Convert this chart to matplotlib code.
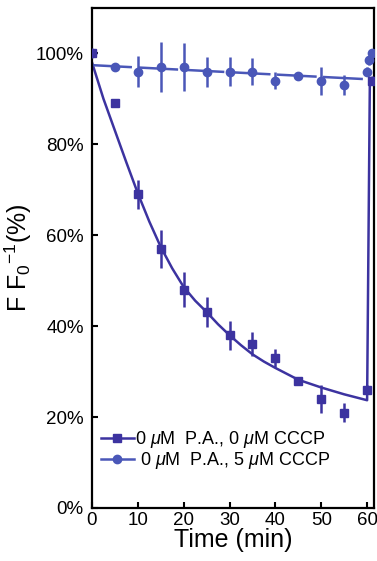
import matplotlib
matplotlib.use("Agg")
import matplotlib.pyplot as plt

plt.rcParams['font.family'] = ['Liberation Sans', 'DejaVu Sans']
plt.rcParams['mathtext.fontset'] = 'custom'
plt.rcParams['mathtext.rm'] = 'Liberation Sans'
plt.rcParams['mathtext.it'] = 'Liberation Sans:italic'

# Series 1: 0 uM P.A., 0 uM CCCP (squares)
t_sq = [0, 5, 10, 15, 20, 25, 30, 35, 40, 45, 50, 55, 60, 61]
y_sq = [100, 89, 69, 57, 48, 43, 38, 36, 33, 28, 24, 21, 26, 94]
e_sq = [0, 0.8, 3.2, 4.2, 3.8, 3.3, 3.2, 2.6, 2.0, 0.8, 3.0, 2.0, 1.0, 1.0]
# fit curve for series 1
t_fit1 = [0, 2.5, 5, 7.5, 10, 12.5, 15, 17.5, 20, 22.5, 25, 27.5, 30, 32.5,
          35, 37.5, 40, 45, 50, 55, 60, 60.6]
y_fit1 = [98, 90, 83, 76, 69.2, 63, 57.4, 52.7, 48.6, 45.6, 43.1, 40.4, 38.0,
          35.8, 33.8, 32.2, 30.8, 28.2, 26.5, 25.0, 23.7, 94]

# Series 2: 0 uM P.A., 5 uM CCCP (circles)
t_ci = [0, 5, 10, 15, 20, 25, 30, 35, 40, 45, 50, 55, 60, 60.5, 61]
y_ci = [100, 97, 96, 97, 97, 96, 96, 96, 94, 95, 94, 93, 96, 98.5, 100]
e_ci = [0, 0.8, 3.4, 5.5, 5.3, 3.3, 3.1, 3.0, 1.8, 0.5, 3.1, 2.2, 1.0, 1.0, 1.0]
t_fit2 = [0, 60]
y_fit2 = [97.4, 94.3]

c_sq = '#3c33a0'
c_ci = '#4a57b8'

fig = plt.figure(figsize=(3.77, 5.61), dpi=100)
ax = fig.add_axes([0.244, 0.0945, 0.748, 0.8915])

ax.plot(t_fit1, y_fit1, color=c_sq, lw=1.8, zorder=2)
ax.plot(t_fit2, y_fit2, color=c_ci, lw=1.8, dashes=(16, 2.5), zorder=2)
ax.errorbar(t_ci, y_ci, yerr=e_ci, fmt='o', color=c_ci, ms=6, elinewidth=1.8,
            capsize=0, zorder=3)
ax.errorbar(t_sq, y_sq, yerr=e_sq, fmt='s', color=c_sq, ms=5.5, elinewidth=1.8,
            capsize=0, zorder=4)

# legend proxies
h1, = ax.plot([], [], color=c_sq, lw=1.8, marker='s', ms=5.5)
h2, = ax.plot([], [], color=c_ci, lw=1.8, marker='o', ms=6)
ax.legend([h1, h2], [r'0 $\mu$M  P.A., 0 $\mu$M CCCP', r' 0 $\mu$M  P.A., 5 $\mu$M CCCP'],
          loc='upper left', bbox_to_anchor=(0.0, 0.175), frameon=False,
          fontsize=13, handlelength=1.8, handletextpad=0.1, labelspacing=0.0,
          borderaxespad=0.3, borderpad=0.2)

ax.set_xlim(0, 61.5)
ax.set_ylim(0, 110)
ax.set_xticks([0, 10, 20, 30, 40, 50, 60])
ax.set_yticks([0, 20, 40, 60, 80, 100])
ax.set_yticklabels(['0%', '20%', '40%', '60%', '80%', '100%'])
ax.tick_params(direction='in', length=4, width=1.5, labelsize=13.5, pad=3)
ax.tick_params(axis='y', pad=6)
for s in ax.spines.values():
    s.set_linewidth(1.6)

ax.set_xlabel('Time (min)', fontsize=18, labelpad=-1)
ax.set_ylabel(r'F F$_0$$^{-1}$(%)', fontsize=18, labelpad=1)

fig.savefig('out.png', dpi=100)
